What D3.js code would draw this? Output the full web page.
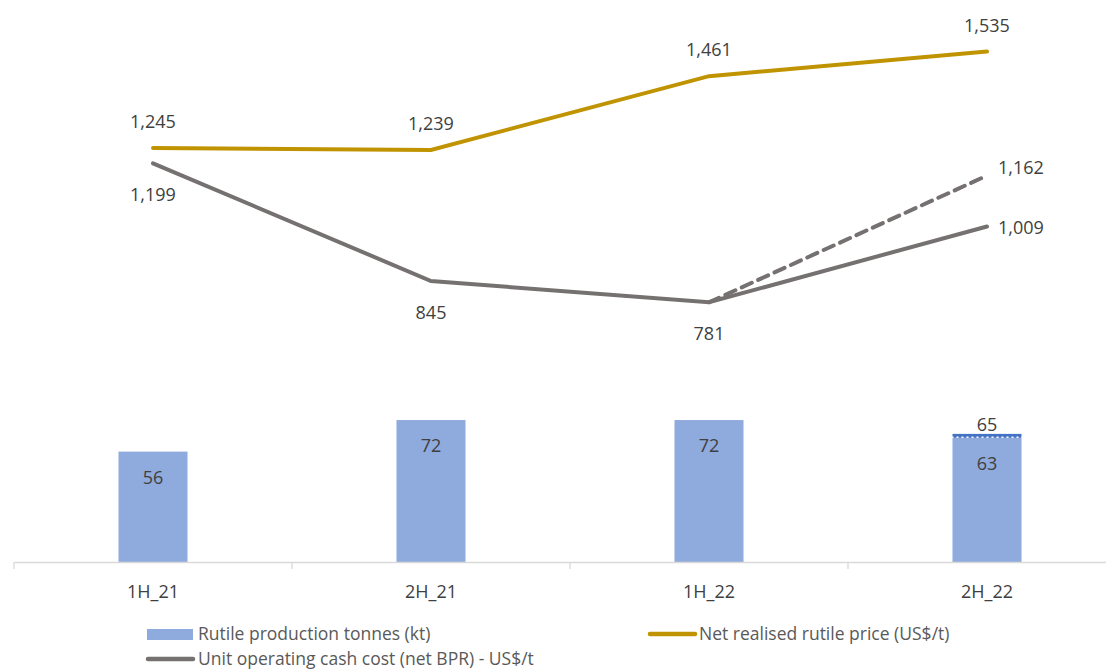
<!DOCTYPE html>
<html>
<head>
<meta charset="utf-8">
<script src="https://cdn.jsdelivr.net/npm/d3@7"></script>
<style>
  body { margin: 0; background: #fff; }
  text { font-family: "Open Sans", "Liberation Sans", sans-serif; fill: #404040; }
</style>
</head>
<body>
<svg id="chart" width="1106" height="670"></svg>
<script>
const periods = ['1H_21', '2H_21', '1H_22', '2H_22']
const production = [56, 72, 72, 63]
const productionExtra = [0, 0, 0, 2]
const price = [1245, 1239, 1461, 1535]
const cashCost = [1199, 845, 781, 1009]
const cashCostAlt = [null, null, 781, 1162]

const gold = '#C09400'
const grey = '#767171'
const blue = '#8FAADC'

const svg = d3.select('#chart')

const x = d3.scaleBand()
  .domain(periods)
  .range([14, 1126])
const yBar = d3.scaleLinear().domain([0, 280]).range([562, 10])
const yLine = d3.scaleLinear().domain([0, 1660]).range([562, 10])

const barWidth = 69
const mid = p => x(p) + x.bandwidth() / 2

const defs = svg.append('defs')
const pat = defs.append('pattern')
  .attr('id', 'dots')
  .attr('width', 5).attr('height', 5)
  .attr('patternUnits', 'userSpaceOnUse')
pat.append('rect').attr('width', 5).attr('height', 5).attr('fill', '#4472C4')
pat.append('rect').attr('x', 1.5).attr('y', 1.5).attr('width', 2).attr('height', 2).attr('fill', '#fff')

// bars
svg.selectAll('rect.bar')
  .data(periods)
  .join('rect')
  .attr('class', 'bar')
  .attr('x', p => mid(p) - barWidth / 2)
  .attr('width', barWidth)
  .attr('y', (p, i) => yBar(production[i]))
  .attr('height', (p, i) => yBar(0) - yBar(production[i]))
  .attr('fill', blue)

svg.selectAll('rect.extra')
  .data(periods.filter((p, i) => productionExtra[i] > 0))
  .join('rect')
  .attr('class', 'extra')
  .attr('x', p => mid(p) - barWidth / 2)
  .attr('width', barWidth)
  .attr('y', p => {
    const i = periods.indexOf(p)
    return yBar(production[i] + productionExtra[i])
  })
  .attr('height', p => {
    const i = periods.indexOf(p)
    return yBar(production[i]) - yBar(production[i] + productionExtra[i])
  })
  .attr('fill', 'url(#dots)')

svg.selectAll('text.barlab')
  .data(periods)
  .join('text')
  .attr('class', 'barlab')
  .attr('x', mid)
  .attr('y', (p, i) => yBar(production[i]) + 32)
  .attr('text-anchor', 'middle')
  .attr('font-size', 18)
  .text((p, i) => production[i])

svg.append('text')
  .attr('x', mid('2H_22'))
  .attr('y', yBar(production[3] + productionExtra[3]) - 3)
  .attr('text-anchor', 'middle')
  .attr('font-size', 18)
  .text(production[3] + productionExtra[3])

// axis
const axis = svg.append('g')
  .attr('transform', `translate(0,${ yBar(0) })`)
  .call(d3.axisBottom(x).tickSize(0).tickPadding(23))
axis.select('.domain').attr('stroke', '#d9d9d9').attr('stroke-width', 1.3)
axis.selectAll('.tick text')
  .attr('font-size', 18)
  .attr('fill', '#404040')
  .style('font-family', '"Open Sans", "Liberation Sans", sans-serif')
svg.selectAll('line.sep')
  .data(periods)
  .join('line')
  .attr('class', 'sep')
  .attr('x1', p => x(p)).attr('x2', p => x(p))
  .attr('y1', yBar(0)).attr('y2', yBar(0) + 7)
  .attr('stroke', '#d9d9d9').attr('stroke-width', 1.3)

// lines
const line = d3.line()
  .defined(d => d != null)
  .x((d, i) => mid(periods[i]))
  .y(d => yLine(d))

svg.append('path')
  .attr('d', line(cashCostAlt))
  .attr('fill', 'none')
  .attr('stroke', grey)
  .attr('stroke-width', 4)
  .attr('stroke-dasharray', '11,7')
  .attr('stroke-linecap', 'round')

svg.append('path')
  .attr('d', line(cashCost))
  .attr('fill', 'none')
  .attr('stroke', grey)
  .attr('stroke-width', 4)
  .attr('stroke-linecap', 'round')

svg.append('path')
  .attr('d', line(price))
  .attr('fill', 'none')
  .attr('stroke', gold)
  .attr('stroke-width', 4)
  .attr('stroke-linecap', 'round')

const fmt = d3.format(',')

svg.selectAll('text.price')
  .data(price)
  .join('text')
  .attr('class', 'price')
  .attr('x', (d, i) => mid(periods[i]))
  .attr('y', d => yLine(d) - 20)
  .attr('text-anchor', 'middle')
  .attr('font-size', 18)
  .text(fmt)

svg.selectAll('text.cost')
  .data(cashCost)
  .join('text')
  .attr('class', 'cost')
  .attr('x', (d, i) => i === 3 ? mid(periods[i]) + 11 : mid(periods[i]))
  .attr('y', (d, i) => i === 3 ? yLine(d) + 8 : yLine(d) + 38)
  .attr('text-anchor', (d, i) => i === 3 ? 'start' : 'middle')
  .attr('font-size', 18)
  .text(fmt)

svg.append('text')
  .attr('x', mid('2H_22') + 11)
  .attr('y', yLine(cashCostAlt[3]) - 2)
  .attr('font-size', 18)
  .text(fmt(cashCostAlt[3]))

// legend
const legend = svg.append('g')
legend.append('rect')
  .attr('x', 147).attr('y', 629).attr('width', 46).attr('height', 11)
  .attr('fill', blue)
legend.append('text')
  .attr('x', 198).attr('y', 640).attr('font-size', 17.5).style('fill', '#595959')
  .text('Rutile production tonnes (kt)')
legend.append('line')
  .attr('x1', 650).attr('x2', 695).attr('y1', 634).attr('y2', 634)
  .attr('stroke', gold).attr('stroke-width', 4.5).attr('stroke-linecap', 'round')
legend.append('text')
  .attr('x', 699).attr('y', 640).attr('font-size', 17.5).style('fill', '#595959')
  .text('Net realised rutile price (US$/t)')
legend.append('line')
  .attr('x1', 148).attr('x2', 193).attr('y1', 659).attr('y2', 659)
  .attr('stroke', grey).attr('stroke-width', 4.5).attr('stroke-linecap', 'round')
legend.append('text')
  .attr('x', 198).attr('y', 665).attr('font-size', 17.5).style('fill', '#595959')
  .text('Unit operating cash cost (net BPR) - US$/t')
</script>
</body>
</html>
